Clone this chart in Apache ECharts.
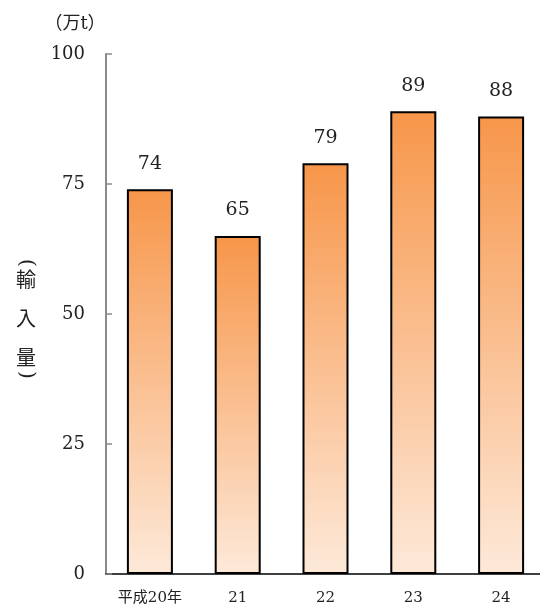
<!DOCTYPE html>
<html>
<head>
<meta charset="utf-8">
<script src="https://cdn.jsdelivr.net/npm/echarts@6/dist/echarts.min.js"></script>
<style>
  html, body { margin: 0; padding: 0; background: #fff; }
  #chart { width: 540px; height: 606px; }
</style>
</head>
<body>
<div id="chart"></div>
<script>
// 輸入量の推移（万t）
const years = ['平成20年', '21', '22', '23', '24'];
const imports = [74, 65, 79, 89, 88];
const yTicks = [0, 25, 50, 75, 100];

const FONT = "'DejaVu Serif', 'Noto Sans CJK JP', serif";
const CJK = "'Noto Sans CJK JP', sans-serif";

const chart = echarts.init(document.getElementById('chart'), null, { renderer: 'canvas' });

// 縦書きの軸タイトル「（輸入量）」: 括弧は90度回転して描く
const nameChars = [
  { t: '輸', y: 279 },
  { t: '入', y: 318 },
  { t: '量', y: 357 }
];
const nameParens = [
  { t: '(', y: 263 },
  { t: ')', y: 375 }
];

chart.setOption({
  backgroundColor: '#ffffff',
  animation: false,
  grid: { left: 106, width: 439, top: 54, bottom: 32, outerBoundsMode: 'none' },
  xAxis: {
    type: 'category',
    data: years,
    axisLine: { show: true, lineStyle: { color: '#000', width: 1.5 } },
    axisTick: { show: false },
    axisLabel: { color: '#222', fontSize: 15, fontFamily: FONT, margin: 17 }
  },
  yAxis: {
    type: 'value',
    min: yTicks[0],
    max: yTicks[yTicks.length - 1],
    interval: 25,
    axisLine: { show: true, lineStyle: { color: '#8a8a8a', width: 2 } },
    axisTick: { show: true, inside: true, length: 6, lineStyle: { color: '#8a8a8a', width: 1.5 } },
    splitLine: { show: false },
    axisLabel: { color: '#222', fontSize: 18, fontFamily: FONT, margin: 21 }
  },
  graphic: [
    { type: 'text', x: 75, y: 24, style: { text: '（万t）', font: "18px " + FONT, fill: '#222', align: 'center', verticalAlign: 'middle' } }
  ].concat(nameChars.map(c => ({
    type: 'text', x: 26, y: c.y,
    style: { text: c.t, font: "20px " + CJK, fill: '#222', align: 'center', verticalAlign: 'middle' }
  }))).concat(nameParens.map(c => ({
    type: 'group', x: 26, y: c.y, rotation: -Math.PI / 2,
    children: [{
      type: 'text', x: 0, y: 0,
      style: { text: c.t, font: "20px 'DejaVu Serif'", fill: '#222', align: 'center', verticalAlign: 'middle' }
    }]
  }))),
  series: [{
    type: 'bar',
    data: imports,
    barWidth: 46,
    itemStyle: {
      borderColor: '#000',
      borderWidth: 2,
      color: new echarts.graphic.LinearGradient(0, 0, 0, 1, [
        { offset: 0, color: '#f7964a' },
        { offset: 1, color: '#fde9d9' }
      ])
    },
    label: {
      show: true,
      position: 'top',
      distance: 16,
      color: '#222',
      fontSize: 19,
      fontFamily: FONT
    }
  }]
});
</script>
</body>
</html>
